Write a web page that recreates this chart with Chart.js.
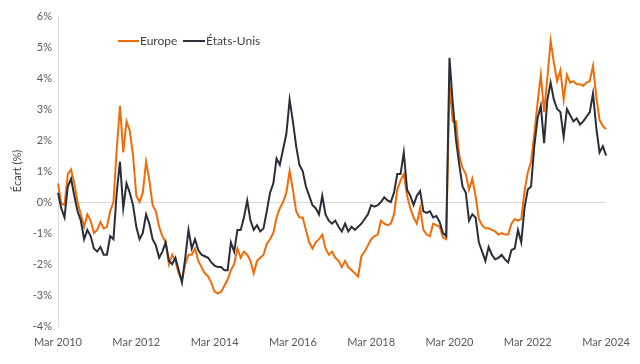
<!DOCTYPE html>
<html lang="fr">
<head>
    <meta charset="UTF-8">
    <title>Écart Europe / États-Unis</title>
    <script src="https://cdn.jsdelivr.net/npm/chart.js"></script>
    <style>
        body {
            margin: 0;
            padding: 0;
            background: #fff;
        }
        #wrap {
            width: 640px;
            height: 364px;
        }
    </style>
</head>
<body>
    <div id="wrap">
        <canvas id="spreadChart" width="640" height="364"></canvas>
    </div>

    <script>
        // Monthly values, Mar 2010 -> Mar 2024 (one row = Mar..Feb)
        const europe = [
            0.6, -0.05, -0.1, 0.9, 1.05, 0.6, 0.0, -0.4, -0.8, -0.4, -0.6, -1.0,
            -0.9, -0.65, -0.85, -0.8, -0.3, 0.0, 1.7, 3.1, 1.6, 2.6, 2.3, 1.5,
            0.2, 0.0, 0.3, 1.3, 0.7, -0.1, -0.3, -0.8, -1.1, -1.3, -2.0, -1.7,
            -1.9, -2.3, -2.5, -2.0, -1.7, -1.7, -1.5, -1.9, -2.1, -2.3, -2.4, -2.6,
            -2.9, -2.95, -2.9, -2.7, -2.5, -2.2, -2.0, -1.5, -1.8, -1.6, -1.7, -1.9,
            -2.3, -1.9, -1.8, -1.7, -1.35, -1.2, -1.0, -0.5, -0.2, 0.0, 0.3, 1.0,
            0.4, -0.3, -0.5, -0.5, -0.9, -1.3, -1.5, -1.3, -1.2, -1.05, -1.5, -1.7,
            -1.6, -1.8, -1.9, -2.1, -1.9, -2.1, -2.2, -2.3, -2.4, -1.75, -1.6, -1.4,
            -1.2, -1.1, -1.05, -0.6, -0.7, -0.75, -0.7, -0.4, 0.4, 0.7, 0.9, 0.2,
            -0.2, -0.5, -0.7, -0.2, -0.9, -1.05, -1.1, -0.7, -0.75, -0.8, -1.15, -1.2,
            3.8, 2.6, 2.6, 1.5, 1.1, 0.9, 0.4, 0.75, 0.2, -0.55, -0.75, -0.85,
            -0.85, -0.9, -0.95, -1.05, -1.0, -1.05, -1.05, -0.7, -0.55, -0.6, -0.55, 0.35,
            0.95, 1.3, 2.2, 3.2, 4.1, 2.9, 4.0, 5.2, 4.5, 3.9, 4.25, 3.3,
            4.1, 3.85, 3.9, 3.8, 3.8, 3.75, 3.85, 3.9, 4.4, 3.4, 2.65, 2.45,
            2.35
        ];

        const etatsUnis = [
            0.3, -0.2, -0.5, 0.5, 0.75, 0.2, -0.3, -0.6, -1.2, -0.9, -1.1, -1.5,
            -1.6, -1.45, -1.7, -1.7, -1.1, -1.2, 0.3, 1.3, -0.2, 0.6, 0.3, -0.1,
            -0.8, -1.2, -1.0, -0.4, -0.7, -1.2, -1.4, -1.8, -1.6, -1.3, -1.9, -2.0,
            -1.8, -2.2, -2.6, -1.8, -0.9, -1.5, -1.2, -1.55, -1.7, -1.75, -1.8, -1.95,
            -2.05, -2.1, -2.1, -2.2, -2.2, -1.3, -1.6, -0.9, -0.9, -0.5, 0.05, -0.6,
            -0.9, -0.75, -0.95, -0.85, -0.3, 0.3, 0.6, 1.4, 1.2, 1.7, 2.2, 3.3,
            2.6, 1.8, 1.2, 1.0, 0.5, 0.2, -0.1, -0.2, -0.4, 0.2, -0.4, -0.6,
            -0.7, -0.6, -0.8, -0.95, -0.7, -0.95, -0.8, -0.9, -0.8, -0.7, -0.55, -0.4,
            -0.1, -0.15, -0.1, 0.0, 0.15, 0.05, 0.0, 0.3, 0.9, 0.9, 1.6, 0.4,
            0.2, -0.1, 0.2, 0.35, -0.3, -0.35, -0.3, -0.5, -0.45, -0.65, -1.0, -1.1,
            4.65, 3.2, 2.0, 1.2, 0.5, 0.3, -0.6, -0.4, -0.5, -1.3, -1.6, -1.9,
            -1.45, -1.7, -1.85, -1.8, -1.7, -1.85, -1.95, -1.55, -1.5, -0.9, -1.3, -0.2,
            0.4, 0.5, 1.8, 2.7, 3.1, 1.9, 3.3, 3.85, 3.3, 3.0, 2.9, 2.1,
            3.0, 2.8, 2.6, 2.7, 2.5, 2.6, 2.75, 2.9, 3.5, 2.4, 1.6, 1.8,
            1.5
        ];

        const monthNames = ['Jan', 'Feb', 'Mar', 'Apr', 'May', 'Jun', 'Jul', 'Aug', 'Sep', 'Oct', 'Nov', 'Dec'];
        const tickLabels = ['Mar 2010', 'Mar 2012', 'Mar 2014', 'Mar 2016', 'Mar 2018', 'Mar 2020', 'Mar 2022', 'Mar 2024'];

        // category labels: one per month starting Mar 2010
        const months = europe.map((_, i) => {
            const m = 2 + i;
            return monthNames[m % 12] + ' ' + (2010 + Math.floor(m / 12));
        });

        const tickFont = { family: 'Lato, sans-serif', size: 11 };
        const textColor = '#595959';

        // legend drawn inside the plot, top-left
        const insideLegend = {
            id: 'insideLegend',
            afterDraw(chart) {
                const c = chart.ctx;
                const spots = [{ x: 118, w: 21 }, { x: 183, w: 22 }];
                c.save();
                c.font = '12px Lato, sans-serif';
                c.textBaseline = 'middle';
                chart.data.datasets.forEach((ds, i) => {
                    const s = spots[i];
                    c.strokeStyle = ds.borderColor;
                    c.lineWidth = 2;
                    c.beginPath();
                    c.moveTo(s.x, 41);
                    c.lineTo(s.x + s.w, 41);
                    c.stroke();
                    c.fillStyle = '#404040';
                    c.fillText(ds.label, s.x + s.w + 1, 41);
                });
                c.restore();
            }
        };

        const ctx = document.getElementById('spreadChart').getContext('2d');
        new Chart(ctx, {
            type: 'line',
            data: {
                labels: months,
                datasets: [
                    {
                        label: 'Europe',
                        data: europe,
                        borderColor: '#EE6D0B',
                        borderWidth: 2,
                        pointRadius: 0,
                        tension: 0,
                        order: 2
                    },
                    {
                        label: 'États-Unis',
                        data: etatsUnis,
                        borderColor: '#2A2E38',
                        borderWidth: 2,
                        pointRadius: 0,
                        tension: 0,
                        order: 1
                    }
                ]
            },
            options: {
                responsive: false,
                animation: false,
                layout: { padding: { top: 16, right: 33, left: 0, bottom: 0 } },
                plugins: {
                    legend: { display: false },
                    tooltip: { enabled: false }
                },
                scales: {
                    x: {
                        grid: { display: false, drawTicks: false },
                        border: { display: false },
                        ticks: {
                            autoSkip: false,
                            maxRotation: 0,
                            padding: 10,
                            color: textColor,
                            font: tickFont,
                            callback: function (val) {
                                const lab = this.getLabelForValue(val);
                                return tickLabels.includes(lab) ? lab : '';
                            }
                        },
                        afterFit: s => { s.height = 38; }
                    },
                    y: {
                        min: -4,
                        max: 6,
                        ticks: {
                            stepSize: 1,
                            padding: 6,
                            color: textColor,
                            font: tickFont,
                            callback: v => v + '%'
                        },
                        grid: {
                            drawTicks: false,
                            color: c => c.tick.value === 0 ? '#d9d9d9' : 'rgba(0,0,0,0)'
                        },
                        border: { color: '#d9d9d9' },
                        title: {
                            display: true,
                            text: 'Écart (%)',
                            color: '#404040',
                            font: { family: 'Lato, sans-serif', size: 11 },
                            padding: { top: 11, bottom: 0 }
                        },
                        afterFit: s => { s.width = 58; }
                    }
                }
            },
            plugins: [insideLegend]
        });
    </script>
</body>
</html>
